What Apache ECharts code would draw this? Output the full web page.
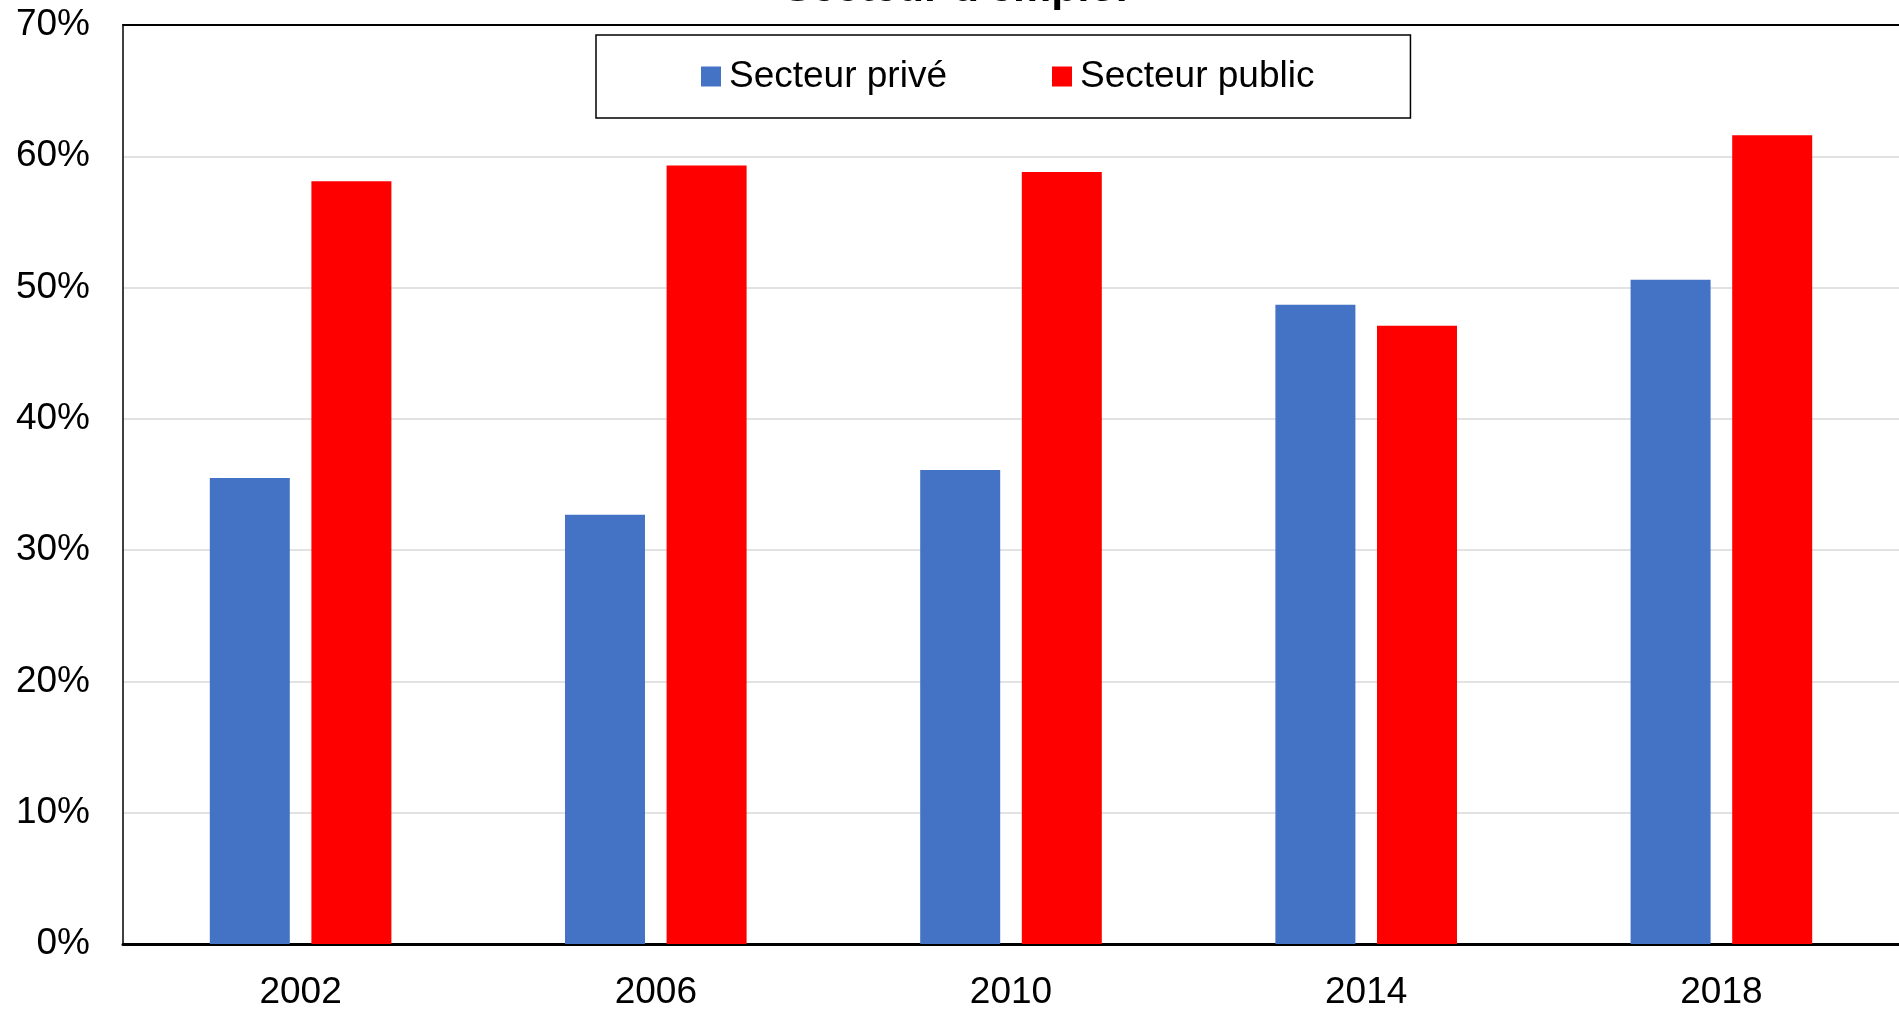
<!DOCTYPE html>
<html>
<head>
<meta charset="utf-8">
<script src="https://cdn.jsdelivr.net/npm/echarts@6/dist/echarts.min.js"></script>
<style>
html,body{margin:0;padding:0;background:#fff;}
#chart{width:1899px;height:1011px;}
</style>
</head>
<body>
<div id="chart"></div>
<script>
var years = ['2002', '2006', '2010', '2014', '2018'];
var prive = [35.5, 32.7, 36.1, 48.7, 50.6];
var publicS = [58.1, 59.3, 58.8, 47.1, 61.6];
var seriesNames = ['Secteur privé', 'Secteur public'];
var titleText = "Secteur d'emploi";

var FONT = "Arial, 'Liberation Sans', sans-serif";
var chart = echarts.init(document.getElementById('chart'));
chart.setOption({
  animation: false,
  backgroundColor: '#fff',
  graphic: [{
    type: 'text',
    left: 783,
    top: -32.5,
    style: {
      text: titleText,
      font: 'bold 43px ' + FONT,
      fill: '#000'
    }
  }],
  legend: {
    left: 596,
    top: 35,
    padding: [23, 96, 23, 105],
    borderColor: '#000',
    borderWidth: 1.5,
    itemWidth: 20,
    itemHeight: 20,
    itemGap: 105,
    icon: 'rect',
    textStyle: { fontSize: 37, fontFamily: FONT, color: '#000', padding: [0, 0, 0, 3] },
    data: seriesNames
  },
  grid: { left: 123, top: 25, right: 0, bottom: 63, containLabel: false },
  xAxis: [{
    type: 'category',
    data: years,
    axisLine: { lineStyle: { color: '#000', width: 3 } },
    axisTick: { show: false },
    axisLabel: { fontSize: 37, fontFamily: FONT, color: '#000', margin: 30 },
    splitLine: { show: false }
  }, {
    type: 'category',
    data: years,
    position: 'top',
    axisLine: { lineStyle: { color: '#000', width: 2 } },
    axisTick: { show: false },
    axisLabel: { show: false }
  }],
  yAxis: {
    type: 'value',
    min: 0,
    max: 70,
    interval: 10,
    axisLine: { show: true, lineStyle: { color: '#000', width: 1.5 } },
    axisTick: { show: false },
    axisLabel: { fontSize: 37, fontFamily: FONT, color: '#000', margin: 33, formatter: '{value}%' },
    splitLine: { lineStyle: { color: '#d9d9d9', width: 1.5 } }
  },
  series: [{
    name: seriesNames[0],
    type: 'bar',
    data: prive,
    barWidth: 80,
    barGap: '27%',
    itemStyle: { color: '#4472C4' }
  }, {
    name: seriesNames[1],
    type: 'bar',
    data: publicS,
    barWidth: 80,
    barGap: '27%',
    itemStyle: { color: '#FF0000' }
  }]
});
</script>
</body>
</html>
